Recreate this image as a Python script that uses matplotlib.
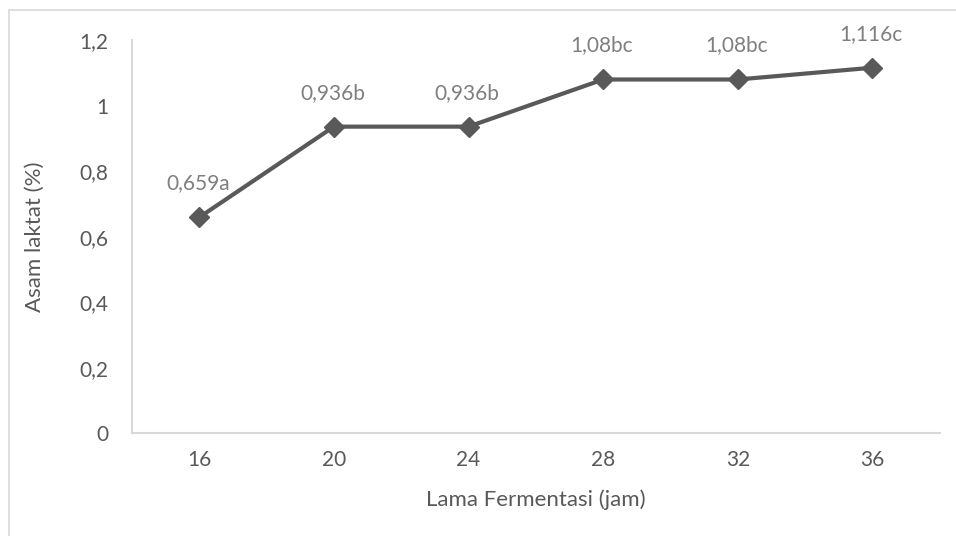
import matplotlib
matplotlib.use("Agg")
import matplotlib.pyplot as plt
from matplotlib.patches import Rectangle

jam = ["16", "20", "24", "28", "32", "36"]
asam_laktat = [0.659, 0.936, 0.936, 1.08, 1.08, 1.116]
notasi = ["a", "b", "b", "bc", "bc", "c"]

plt.rcParams['font.family'] = ['Lato', 'DejaVu Sans']

fig = plt.figure(figsize=(9.56, 5.36), dpi=100)
ax = fig.add_axes([0.138, 0.192, 0.845, 0.733])

# chart frame, only left and top edges visible
fig.patches.append(Rectangle((0.009, -0.1), 1.2, 1.081, transform=fig.transFigure,
                             fill=False, edgecolor='#d9d9d9', linewidth=1.2))

x = list(range(len(jam)))
ax.plot(x, asam_laktat, color='#595959', linewidth=3, marker='D', markersize=10,
        markerfacecolor='#595959', markeredgecolor='#595959')

for xi, v, n in zip(x, asam_laktat, notasi):
    lbl = ("%g" % v).replace('.', ',') + n
    ax.annotate(lbl, (xi, v), xytext=(-1, 24.5), textcoords='offset points',
                ha='center', va='center', fontsize=15, color='#7f7f7f')

ax.set_xlim(-0.5, len(jam) - 0.5)
ax.set_ylim(0, 1.2)
ax.set_xticks(x)
ax.set_xticklabels(jam)
ax.set_yticks([0, 0.2, 0.4, 0.6, 0.8, 1.0, 1.2])
ax.set_yticklabels(["0", "0,2", "0,4", "0,6", "0,8", "1", "1,2"])
ax.tick_params(length=0, labelsize=15, labelcolor='#595959')
ax.tick_params(axis='x', pad=12)
ax.tick_params(axis='y', pad=17)

for s in ['top', 'right']:
    ax.spines[s].set_visible(False)
for s in ['left', 'bottom']:
    ax.spines[s].set_color('#d9d9d9')
    ax.spines[s].set_linewidth(1.5)

ax.set_xlabel("Lama Fermentasi (jam)", fontsize=16, color='#595959', va='center')
ax.set_ylabel("Asam laktat (%)", fontsize=16, color='#595959', va='center')
ax.xaxis.set_label_coords(0.5, -0.17)
ax.yaxis.set_label_coords(-0.12, 0.5)

fig.savefig("out.png", dpi=100)
